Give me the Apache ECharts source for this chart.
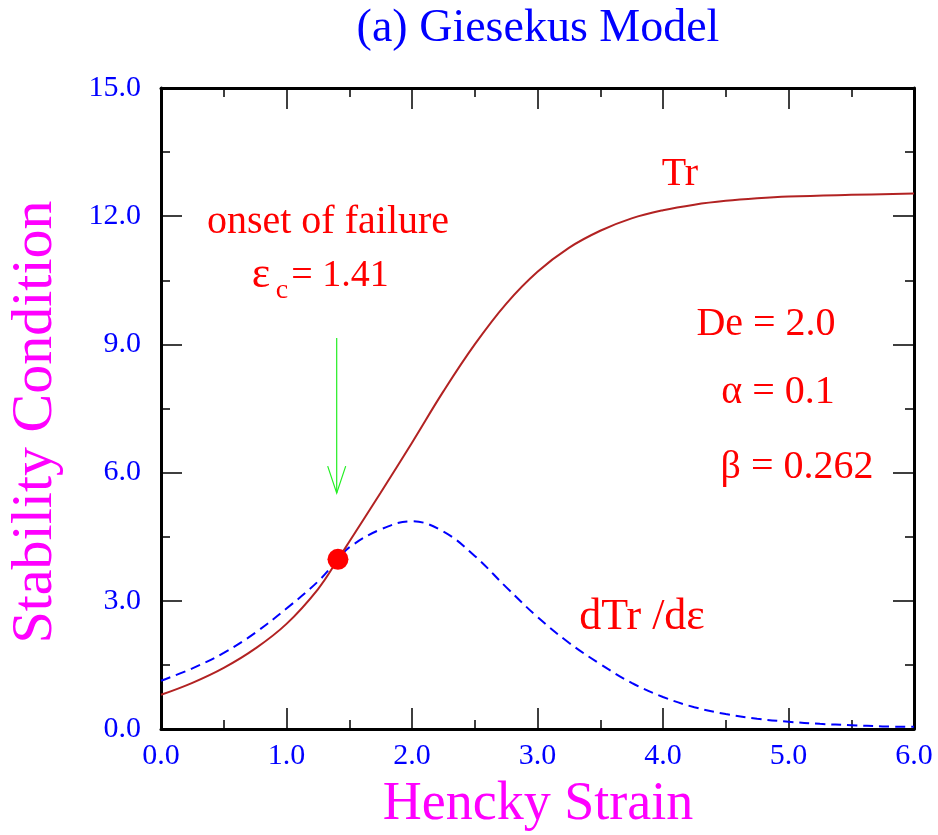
<!DOCTYPE html>
<html>
<head>
<meta charset="utf-8">
<script src="https://cdn.jsdelivr.net/npm/echarts@6/dist/echarts.min.js"></script>
<style>html,body{margin:0;padding:0;background:#fff}#c{width:938px;height:835px}</style>
</head>
<body>
<div id="c"></div>
<script>
// ---- data ----
const strainTr = [0, 0.25, 0.5, 0.75, 1.0, 1.25, 1.41, 1.5, 1.75, 2.0, 2.25, 2.5, 2.75, 3.0, 3.25, 3.5, 3.75, 4.0, 4.25, 4.5, 4.75, 5.0, 5.5, 6.0];
const trValues = [0.80, 1.08, 1.43, 1.88, 2.46, 3.27, 3.97, 4.38, 5.53, 6.70, 7.90, 9.00, 9.95, 10.70, 11.26, 11.66, 11.95, 12.14, 12.27, 12.36, 12.42, 12.46, 12.50, 12.53];
const strainD = [0, 0.25, 0.5, 0.75, 1.0, 1.25, 1.41, 1.5, 1.75, 2.0, 2.25, 2.5, 2.75, 3.0, 3.25, 3.5, 3.75, 4.0, 4.25, 4.5, 4.75, 5.0, 5.25, 5.5, 5.75, 6.0];
const dTrValues = [1.13, 1.42, 1.78, 2.25, 2.82, 3.45, 3.97, 4.25, 4.67, 4.86, 4.62, 4.05, 3.32, 2.62, 2.02, 1.52, 1.08, 0.75, 0.51, 0.35, 0.24, 0.17, 0.12, 0.09, 0.06, 0.05];
const onsetPoint = [1.41, 3.97];
const arrowData = [1.40, 9.15, 5.52]; // x, start y, tip y
const xTicks = ['0.0','1.0','2.0','3.0','4.0','5.0','6.0'];
const yTicks = ['0.0','3.0','6.0','9.0','12.0','15.0'];

const SERIF = 'Liberation Serif';
const chart = echarts.init(document.getElementById('c'), null, {renderer: 'canvas'});

const axisCommon = {
  type: 'value',
  axisLine: {show: true, onZero: false, lineStyle: {color: '#000', width: 3}},
  axisTick: {show: true, inside: true, length: 21, lineStyle: {color: '#000', width: 1.5}},
  minorTick: {show: true, splitNumber: 2, length: 9, lineStyle: {color: '#000', width: 1.5}},
  splitLine: {show: false},
  minorSplitLine: {show: false}
};

function txt(x, y, text, size, color, extra) {
  return Object.assign({
    type: 'text', x: x, y: y,
    style: {text: text, fill: color, fontFamily: SERIF, fontSize: size, textAlign: 'center', textVerticalAlign: 'middle'}
  }, extra || {});
}

const option = {
  animation: false,
  backgroundColor: '#fff',
  grid: {left: 161, top: 88, width: 753, height: 641, containLabel: false},
  xAxis: [
    Object.assign({}, axisCommon, {
      position: 'bottom', min: 0, max: 6, interval: 1,
      axisLabel: {show: true, margin: 12, color: '#0000ff', fontFamily: SERIF, fontSize: 30,
        formatter: (v) => xTicks[Math.round(v)]}
    }),
    Object.assign({}, axisCommon, {
      position: 'top', min: 0, max: 6, interval: 1, axisLabel: {show: false}
    })
  ],
  yAxis: [
    Object.assign({}, axisCommon, {
      position: 'left', min: 0, max: 15, interval: 3,
      axisLabel: {show: true, margin: 20, color: '#0000ff', fontFamily: SERIF, fontSize: 30,
        formatter: (v) => yTicks[Math.round(v / 3)]}
    }),
    Object.assign({}, axisCommon, {
      position: 'right', min: 0, max: 15, interval: 3, axisLabel: {show: false}
    })
  ],
  series: [
    {
      name: 'Tr', type: 'line', xAxisIndex: 0, yAxisIndex: 0,
      data: strainTr.map((x, i) => [x, trValues[i]]),
      showSymbol: false, smooth: 0.4,
      lineStyle: {color: '#b22222', width: 2}, z: 3
    },
    {
      name: 'dTr/dε', type: 'line', xAxisIndex: 0, yAxisIndex: 0,
      data: strainD.map((x, i) => [x, dTrValues[i]]),
      showSymbol: false, smooth: 0.4,
      lineStyle: {color: '#0000ff', width: 2, type: [10, 6]}, z: 2
    },
    {
      name: 'onset', type: 'scatter', xAxisIndex: 0, yAxisIndex: 0,
      data: [onsetPoint], symbol: 'circle', symbolSize: 21,
      itemStyle: {color: '#ff0000', opacity: 1}, z: 5
    },
    {
      name: 'arrow', type: 'custom', xAxisIndex: 0, yAxisIndex: 0,
      data: [arrowData], encode: {x: 0, y: [1, 2]}, z: 4,
      renderItem: function (params, api) {
        const p0 = api.coord([api.value(0), api.value(1)]);
        const p1 = api.coord([api.value(0), api.value(2)]);
        const st = {stroke: '#22ee22', lineWidth: 1.2, fill: null};
        return {
          type: 'group',
          children: [
            {type: 'line', shape: {x1: p0[0], y1: p0[1], x2: p1[0], y2: p1[1]}, style: st},
            {type: 'polyline', shape: {points: [[p1[0] - 9, p1[1] - 27], [p1[0], p1[1]], [p1[0] + 9, p1[1] - 27]]}, style: st}
          ]
        };
      }
    }
  ],
  graphic: [
    txt(538, 29, '(a) Giesekus Model', 46, '#0000ff'),
    txt(538, 805, 'Hencky Strain', 54, '#ff00ff'),
    txt(36, 422, 'Stability Condition', 58, '#ff00ff', {rotation: Math.PI / 2}),
    txt(680, 174, 'Tr', 40, '#ff0000'),
    txt(328, 222, 'onset of failure', 40, '#ff0000'),
    txt(261, 275, 'ε', 44, '#ff0000'),
    txt(282, 291, 'c', 28, '#ff0000'),
    txt(340, 276, '= 1.41', 38, '#ff0000'),
    txt(766, 324, 'De = 2.0', 40, '#ff0000'),
    txt(778, 392, 'α = 0.1', 40, '#ff0000'),
    txt(797, 467, 'β = 0.262', 40, '#ff0000'),
    txt(642, 617, 'dTr /dε', 44, '#ff0000')
  ]
};
chart.setOption(option);
</script>
</body>
</html>
